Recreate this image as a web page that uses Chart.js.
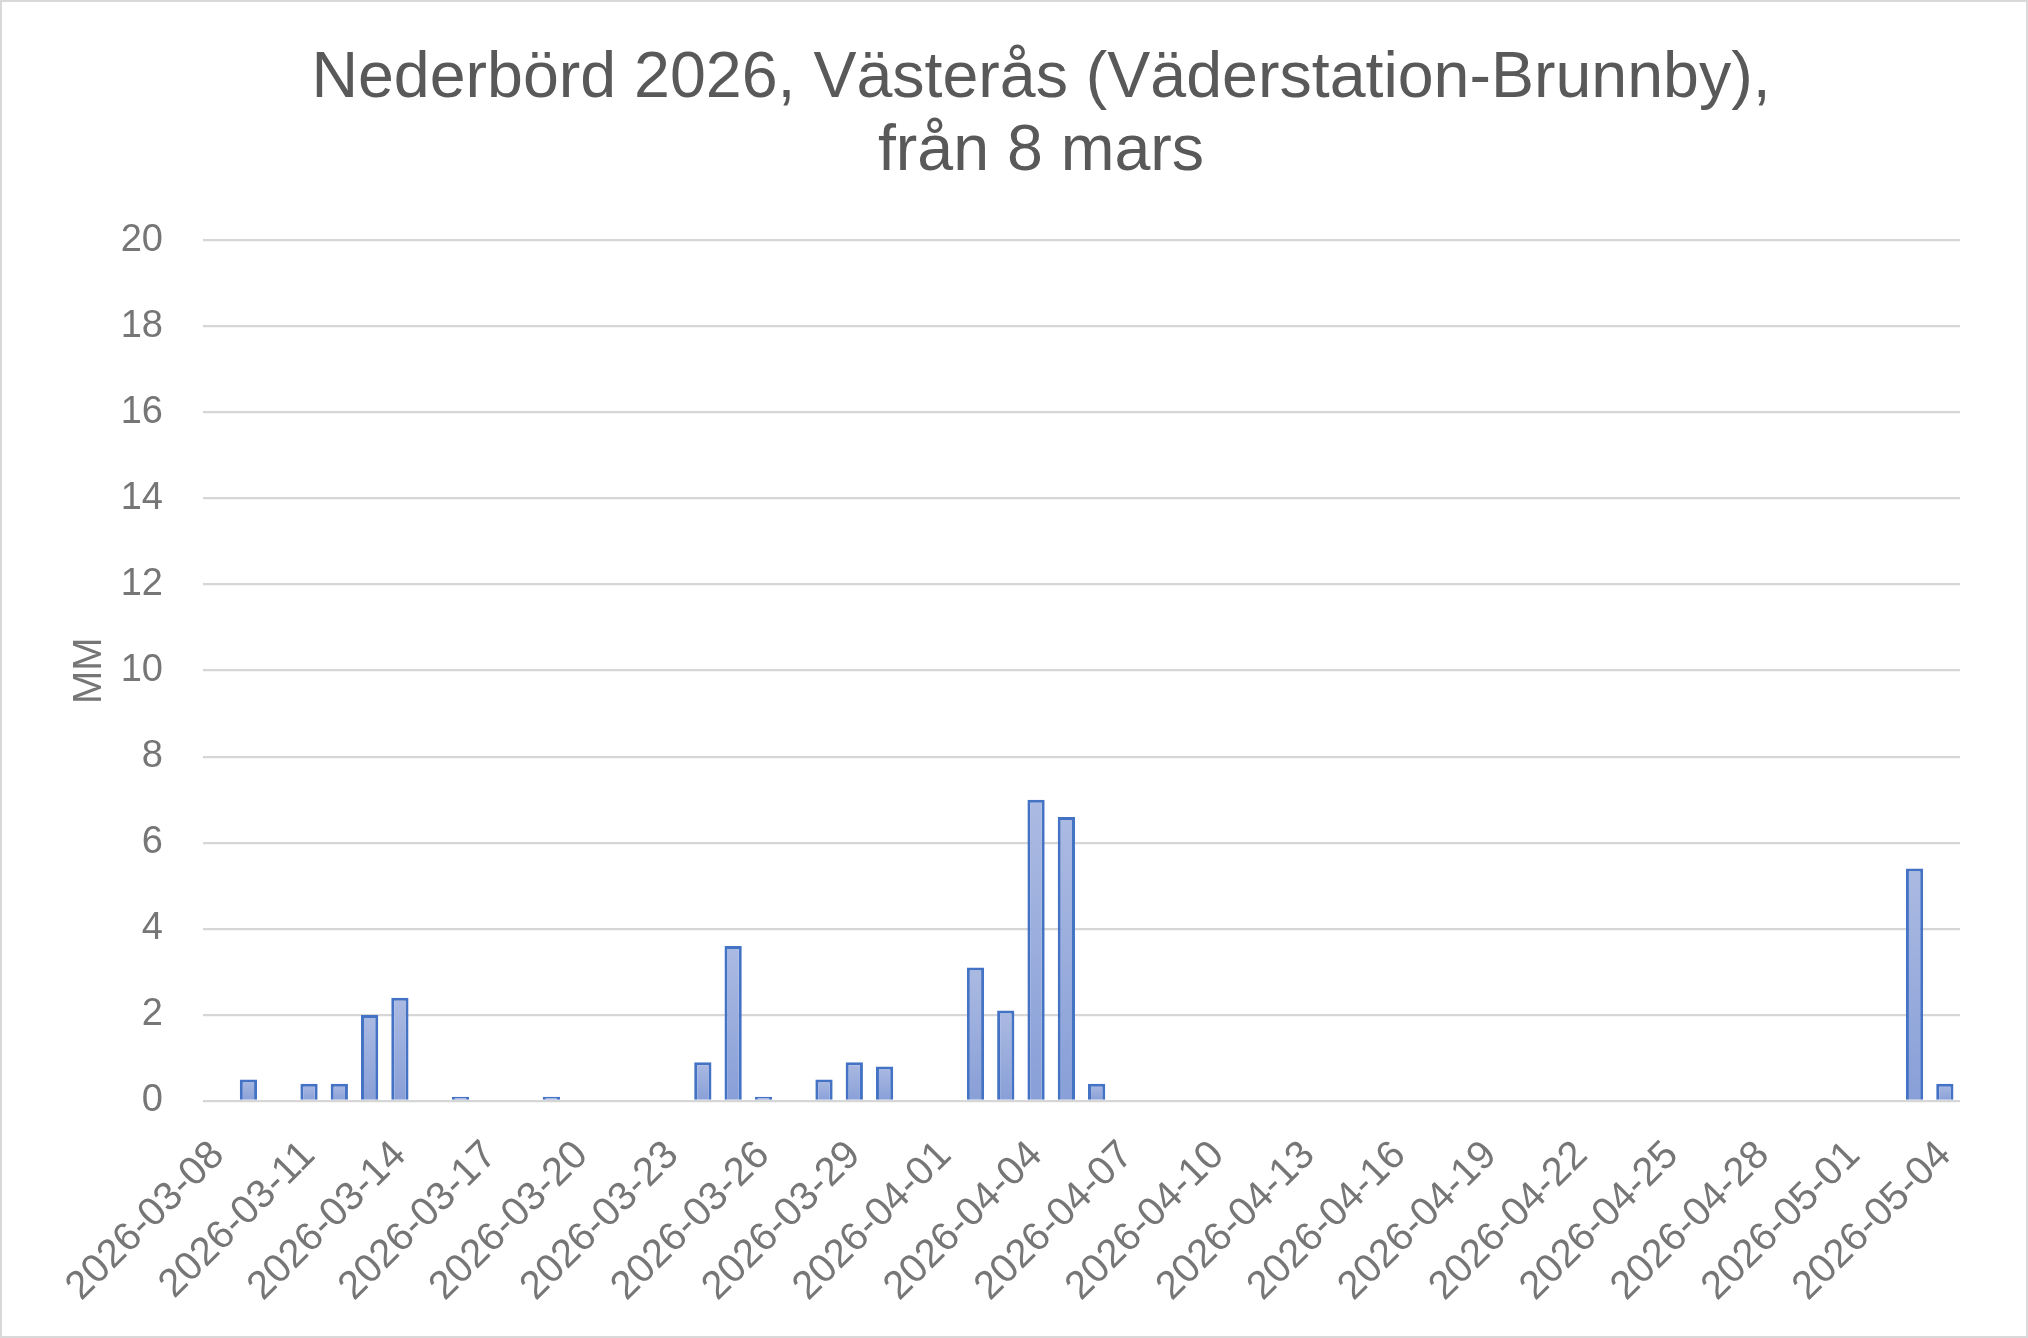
<!DOCTYPE html>
<html>
<head>
<meta charset="utf-8">
<title>Nederbörd 2026, Västerås</title>
<script src="https://cdn.jsdelivr.net/npm/chart.js@4.4.1/dist/chart.umd.min.js"></script>
<style>
  html, body { margin: 0; padding: 0; background: #fff; }
  #frame {
    width: 2028px;
    height: 1338px;
    box-sizing: border-box;
    border: 2px solid #d9d9d9;
    background: #fff;
  }
  #wrap { position: relative; width: 2024px; height: 1334px; }
</style>
</head>
<body>
<div id="frame"><div id="wrap"><canvas id="chart-rain"></canvas></div></div>
<script>
// Daily dates, 8 March - 4 May 2026
const dates = [
    '2026-03-08', '2026-03-09', '2026-03-10', '2026-03-11', '2026-03-12', '2026-03-13', '2026-03-14',
    '2026-03-15', '2026-03-16', '2026-03-17', '2026-03-18', '2026-03-19', '2026-03-20', '2026-03-21',
    '2026-03-22', '2026-03-23', '2026-03-24', '2026-03-25', '2026-03-26', '2026-03-27', '2026-03-28',
    '2026-03-29', '2026-03-30', '2026-03-31', '2026-04-01', '2026-04-02', '2026-04-03', '2026-04-04',
    '2026-04-05', '2026-04-06', '2026-04-07', '2026-04-08', '2026-04-09', '2026-04-10', '2026-04-11',
    '2026-04-12', '2026-04-13', '2026-04-14', '2026-04-15', '2026-04-16', '2026-04-17', '2026-04-18',
    '2026-04-19', '2026-04-20', '2026-04-21', '2026-04-22', '2026-04-23', '2026-04-24', '2026-04-25',
    '2026-04-26', '2026-04-27', '2026-04-28', '2026-04-29', '2026-04-30', '2026-05-01', '2026-05-02',
    '2026-05-03', '2026-05-04'
];

// Precipitation in mm per day
const rainMm = [
    0, 0.5, 0, 0.4, 0.4, 2.0, 2.4,
    0, 0.1, 0, 0, 0.1, 0, 0,
    0, 0, 0.9, 3.6, 0.1, 0, 0.5,
    0.9, 0.8, 0, 0, 3.1, 2.1, 7.0,
    6.6, 0.4, 0, 0, 0, 0, 0,
    0, 0, 0, 0, 0, 0, 0,
    0, 0, 0, 0, 0, 0, 0,
    0, 0, 0, 0, 0, 0, 0,
    5.4, 0.4
];

// Only every third date gets a label on the x axis
const labelEvery = 3;

const titleLines = ['Nederbörd 2026, Västerås (Väderstation-Brunnby),', 'från 8 mars'];
const yTitle = 'MM';

const fontFamily = '"Liberation Sans", Arial, sans-serif';

// per-bar gradient, lighter at the top like the Excel fill
function barGradient(context) {
    const chart = context.chart;
    const yScale = chart.scales.y;
    if (!yScale || !chart.chartArea || context.raw == null) return '#9aaedd';
    const top = yScale.getPixelForValue(context.raw);
    const bottom = yScale.getPixelForValue(0);
    if (!isFinite(top) || !isFinite(bottom) || top === bottom) return '#9aaedd';
    const g = chart.ctx.createLinearGradient(0, top, 0, bottom);
    g.addColorStop(0, '#abbae2');
    g.addColorStop(1, '#889fd7');
    return g;
}

new Chart(document.getElementById('chart-rain'), {
    type: 'bar',
    data: {
        labels: dates,
        datasets: [{
            label: 'Nederbörd',
            data: rainMm,
            backgroundColor: barGradient,
            borderColor: '#4472c4',
            borderWidth: 3,
            categoryPercentage: 1.0,
            barPercentage: 0.57
        }]
    },
    options: {
        responsive: true,
        maintainAspectRatio: false,
        animation: false,
        // left/right padding differ so the title centre sits where Excel put it
        layout: { padding: { left: 120, right: 66, top: 0, bottom: 0 } },
        plugins: {
            legend: { display: false },
            tooltip: { enabled: false },
            title: {
                display: true,
                text: titleLines,
                color: '#595959',
                font: { family: fontFamily, size: 64.5, weight: 'normal', lineHeight: 1.13 },
                padding: { top: 41, bottom: 51.5 }
            }
        },
        scales: {
            x: {
                grid: { display: false, drawTicks: false },
                border: { display: false },
                afterFit: function(scale) { scale.height = 235; },
                ticks: {
                    autoSkip: false,
                    maxRotation: 45,
                    minRotation: 45,
                    padding: 31,
                    color: '#767676',
                    font: { family: fontFamily, size: 40 },
                    callback: function(value, index) {
                        return index % labelEvery === 0 ? this.getLabelForValue(value) : '';
                    }
                }
            },
            y: {
                min: 0,
                max: 20,
                afterFit: function(scale) { scale.width = 81; },
                grid: { color: '#d6d6d6', lineWidth: 2.3, drawTicks: false },
                border: { display: false },
                ticks: {
                    stepSize: 2,
                    padding: 40,
                    color: '#767676',
                    font: { family: fontFamily, size: 38 }
                },
                title: {
                    display: true,
                    text: yTitle,
                    color: '#767676',
                    font: { family: fontFamily, size: 40 },
                    padding: { top: -56, bottom: 0 }
                }
            }
        }
    }
});
</script>
</body>
</html>
